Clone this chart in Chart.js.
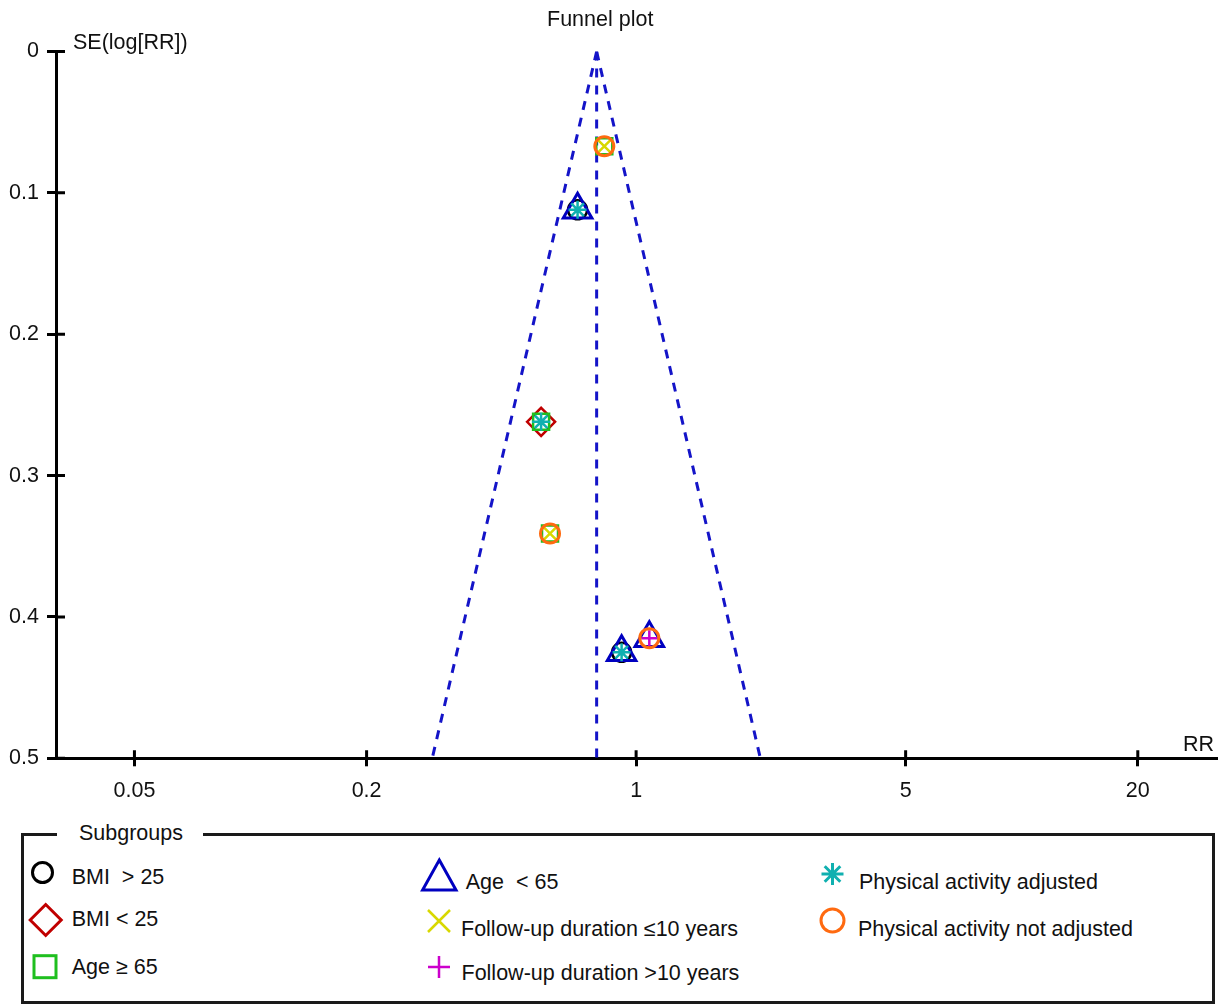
<!DOCTYPE html>
<html>
<head>
<meta charset="utf-8">
<script src="https://cdn.jsdelivr.net/npm/chart.js@4.4.1/dist/chart.umd.min.js"></script>
<style>
  html, body { margin: 0; padding: 0; background: #fff; }
  body { width: 1218px; height: 1004px; position: relative; overflow: hidden;
         font-family: "Liberation Sans", Arial, sans-serif; color: #111; }
  #wrap { position: absolute; left: 0; top: 0; width: 1218px; height: 820px; overflow: hidden; }
  #c { position: absolute; left: 0; top: 0; }
  .t { position: absolute; font-size: 21.5px; line-height: 21.5px; white-space: pre; }
  #legendBox { position: absolute; left: 21px; top: 833px; width: 1194px; height: 171px;
               box-sizing: border-box; border: 3px solid #1a1a1a; }
  #legendTitle { position: absolute; left: 57px; top: 823px; padding: 0 20px 0 22px; background: #fff;
                 font-size: 21.5px; line-height: 21.5px; }
  #marks { position: absolute; left: 0; top: 0; }
</style>
</head>
<body>
<div id="wrap"><canvas id="c" width="1236" height="820"></canvas></div>
<div class="t" style="left:547px; top:9px;">Funnel plot</div>
<div class="t" style="left:73px; top:32px;">SE(log[RR])</div>
<div class="t" style="left:1183px; top:733.5px;">RR</div>

<div id="legendBox"></div>
<div id="legendTitle">Subgroups</div>
<div id="legendItems"></div>
<svg id="marks" width="1218" height="1004"></svg>

<script>
// ---------- data ----------
const studyRR = [0.827, 0.705, 0.567, 0.598, 0.917, 1.082];
const studySE = [0.067, 0.112, 0.262, 0.341, 0.425, 0.415];

const subgroupNames = [
  'BMI  > 25', 'BMI < 25', 'Age \u2265 65', 'Age  < 65',
  'Follow-up duration \u226410 years', 'Follow-up duration >10 years',
  'Physical activity adjusted', 'Physical activity not adjusted'
];
// indices of studies (into studyRR / studySE) in each subgroup
const subgroupMembers = [
  [1, 4],        // BMI > 25
  [2],           // BMI < 25
  [0, 2, 3],     // Age >= 65
  [1, 4, 5],     // Age < 65
  [0, 3],        // Follow-up <= 10 years
  [5],           // Follow-up > 10 years
  [1, 2, 4],     // Physical activity adjusted
  [0, 3, 5]      // Physical activity not adjusted
];

const pooledRR = 0.79;
const funnelLowerRR = 0.296;
const funnelUpperRR = 2.10;
const funnelTopSE = 0;
const funnelBaseSE = 0.5;

const xTickValues = [0.05, 0.2, 1, 5, 20];
const xTickLabels = ['0.05', '0.2', '1', '5', '20'];
const yTickValues = [0, 0.1, 0.2, 0.3, 0.4, 0.5];
const yTickLabels = ['0', '0.1', '0.2', '0.3', '0.4', '0.5'];
const xMin = 0.0313, xMax = 32;

// ---------- styles ----------
const markerStyles = [
  { style: 'circle',   r: 9.5, w: 2.5, color: '#000000' },
  { style: 'rectRot',  r: 14,  w: 2.5, color: '#c00000' },
  { style: 'rect',     r: 11.3,w: 2.5, color: '#1fbf1f' },
  { style: 'triangle', r: 16.5,w: 3,   color: '#0000c0' },
  { style: 'crossRot', r: 10.5,w: 2.5, color: '#d8d800' },
  { style: 'cross',    r: 8,   w: 2.5, color: '#cc00cc' },
  { style: 'star',     r: 9,   w: 2.5, color: '#10b0b0' },
  { style: 'circle',   r: 9.5, w: 3,   color: '#ff6a10' }
];
const funnelColor = '#1414c8';
const FONT = '"Liberation Sans", Arial, sans-serif';

// ---------- datasets ----------
const datasets = [];
const funnelLine = (pts) => ({
  data: pts, showLine: true, pointRadius: 0, borderColor: funnelColor,
  borderWidth: 3, borderDash: [9, 8], fill: false, order: 200, tension: 0
});
datasets.push(funnelLine([{ x: pooledRR, y: funnelTopSE }, { x: funnelLowerRR, y: funnelBaseSE }]));
datasets.push(funnelLine([{ x: pooledRR, y: funnelTopSE }, { x: funnelUpperRR, y: funnelBaseSE }]));
datasets.push(funnelLine([{ x: pooledRR, y: funnelTopSE }, { x: pooledRR, y: funnelBaseSE }]));

subgroupNames.forEach((name, i) => {
  const m = markerStyles[i];
  datasets.push({
    label: name,
    data: subgroupMembers[i].map(k => ({ x: studyRR[k], y: studySE[k] })),
    showLine: false,
    pointStyle: m.style,
    pointRadius: m.r,
    pointBorderWidth: m.w,
    pointBorderColor: m.color,
    pointBackgroundColor: 'rgba(0,0,0,0)',
    order: 100 - i
  });
});

// inner half of the crossing tick marks
const innerTicks = {
  id: 'innerTicks',
  afterDraw(chart) {
    const { ctx, chartArea, scales } = chart;
    ctx.save();
    ctx.strokeStyle = '#000';
    ctx.lineWidth = 3;
    ctx.beginPath();
    scales.x.ticks.forEach(t => {
      const px = scales.x.getPixelForValue(t.value);
      ctx.moveTo(px, chartArea.bottom - 8);
      ctx.lineTo(px, chartArea.bottom);
    });
    scales.y.ticks.forEach(t => {
      const py = scales.y.getPixelForValue(t.value);
      ctx.moveTo(chartArea.left, py);
      ctx.lineTo(chartArea.left + 9, py);
    });
    ctx.stroke();
    ctx.restore();
  }
};

new Chart(document.getElementById('c').getContext('2d'), {
  type: 'scatter',
  data: { datasets },
  options: {
    responsive: false,
    animation: false,
    events: [],
    devicePixelRatio: 1,
    layout: { padding: { top: 51.5, left: 0, right: 0, bottom: 0 } },
    plugins: { legend: { display: false }, tooltip: { enabled: false }, title: { display: false } },
    scales: {
      x: {
        type: 'logarithmic', position: 'bottom', min: xMin, max: xMax,
        afterBuildTicks: s => { s.ticks = xTickValues.map(v => ({ value: v })); },
        afterFit: s => { s.height = 61.7; s.paddingLeft = 0; s.paddingRight = 0; },
        ticks: {
          callback: (v, i) => xTickLabels[i],
          font: { family: FONT, size: 21.5 }, color: '#111',
          padding: 12, maxRotation: 0, autoSkip: false
        },
        grid: { drawOnChartArea: false, drawTicks: true, tickLength: 8, color: '#000', lineWidth: 3 },
        border: { display: true, color: '#000', width: 3 }
      },
      y: {
        type: 'linear', position: 'left', min: 0, max: 0.5, reverse: true,
        afterBuildTicks: s => { s.ticks = yTickValues.map(v => ({ value: v })); },
        afterFit: s => { s.width = 56; s.paddingTop = 0; s.paddingBottom = 0; },
        ticks: {
          callback: (v, i) => yTickLabels[i],
          font: { family: FONT, size: 21.5 }, color: '#111',
          padding: 8, autoSkip: false
        },
        grid: { drawOnChartArea: false, drawTicks: true, tickLength: 9, color: '#000', lineWidth: 3 },
        border: { display: true, color: '#000', width: 3 }
      }
    }
  },
  plugins: [innerTicks]
});

// ---------- legend (HTML text + SVG markers) ----------
const legendTextPos = [
  [71.7, 866.5], [71.7, 909.3], [71.7, 957.3],
  [465.7, 872.3], [461, 918.8], [461.5, 962.5],
  [859, 872.3], [858, 919.3]
];
const legendItems = document.getElementById('legendItems');
subgroupNames.forEach((name, i) => {
  const d = document.createElement('div');
  d.className = 't';
  d.style.left = legendTextPos[i][0] + 'px';
  d.style.top = legendTextPos[i][1] + 'px';
  d.textContent = name;
  legendItems.appendChild(d);
});

const svg = document.getElementById('marks');
const NS = 'http://www.w3.org/2000/svg';
function el(tag, attrs) {
  const e = document.createElementNS(NS, tag);
  for (const k in attrs) e.setAttribute(k, attrs[k]);
  svg.appendChild(e);
  return e;
}
const c = markerStyles.map(m => m.color);
el('circle', { cx: 42.5, cy: 872.5, r: 10, fill: 'none', stroke: c[0], 'stroke-width': 3 });
el('polygon', { points: '45.7,904.5 61.2,920 45.7,935.5 30.2,920', fill: 'none', stroke: c[1], 'stroke-width': 3 });
el('rect', { x: 34, y: 955.7, width: 22, height: 22, fill: 'none', stroke: c[2], 'stroke-width': 3 });
el('polygon', { points: '439.3,860 456,890 422.6,890', fill: 'none', stroke: c[3], 'stroke-width': 3 });
el('path', { d: 'M428,910 L450,932 M450,910 L428,932', stroke: c[4], 'stroke-width': 2.5, fill: 'none' });
el('path', { d: 'M439,956 L439,978 M428,967 L450,967', stroke: c[5], 'stroke-width': 2.5, fill: 'none' });
el('path', { d: 'M832.5,863 L832.5,885 M821.5,874 L843.5,874 M824.7,866.2 L840.3,881.8 M840.3,866.2 L824.7,881.8',
             stroke: c[6], 'stroke-width': 3, fill: 'none' });
el('circle', { cx: 832.5, cy: 920.5, r: 11.5, fill: 'none', stroke: c[7], 'stroke-width': 3 });
</script>
</body>
</html>
